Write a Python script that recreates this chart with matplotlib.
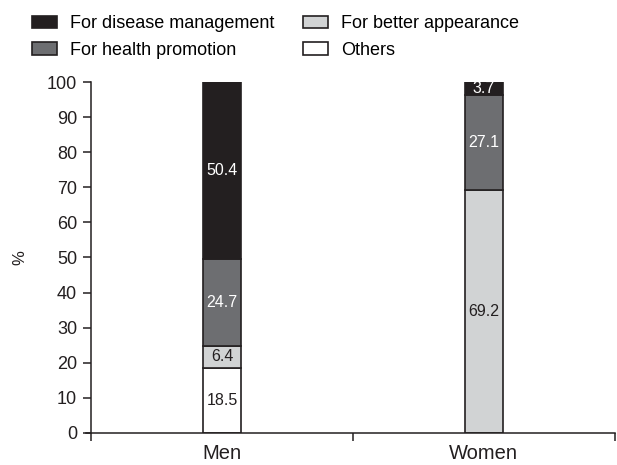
import matplotlib
matplotlib.use("Agg")
import matplotlib.pyplot as plt
import numpy as np

plt.rcParams['font.family'] = ['Liberation Sans', 'DejaVu Sans']

groups = ["Men", "Women"]
series = ["For disease management", "For health promotion", "For better appearance", "Others"]
# stacking order bottom -> top
others = [18.5, 0.0]
appearance = [6.4, 69.2]
health = [24.7, 27.1]
disease = [50.4, 3.7]

colors = {"Others": "#ffffff", "For better appearance": "#d1d3d4",
          "For health promotion": "#6d6e71", "For disease management": "#231f20"}
text_colors = {"Others": "#231f20", "For better appearance": "#231f20",
               "For health promotion": "#ffffff", "For disease management": "#ffffff"}

fig = plt.figure(figsize=(6.17, 4.65), dpi=100)
ax = fig.add_axes([0.1475, 0.069, 0.849, 0.7545])

x = np.array([0.5, 1.5])
width = 0.145
bottom = np.zeros(2)
stack = [("Others", others), ("For better appearance", appearance),
         ("For health promotion", health), ("For disease management", disease)]
handles = {}
for name, vals in stack:
    vals = np.array(vals)
    bars = ax.bar(x, vals, width, bottom=bottom, color=colors[name],
                  edgecolor="#231f20", linewidth=1.2, label=name)
    handles[name] = bars
    for xi, b, v in zip(x, bottom, vals):
        if v > 0:
            ax.text(xi, b + v / 2, f"{v:.1f}", ha="center", va="center",
                    fontsize=11.5, color=text_colors[name])
    bottom += vals

ax.set_xlim(0, 2)
ax.set_ylim(0, 100)
ax.set_yticks(range(0, 101, 10))
ax.set_xticks([0, 1, 2])
ax.set_xticklabels([])
ax.set_xticks(x, minor=True)
ax.set_xticklabels(groups, minor=True, fontsize=14.5, color="#231f20")
ax.tick_params(axis="x", which="minor", length=0, pad=8)
ax.tick_params(axis="x", which="major", length=6, width=1.1, color="#231f20")
ax.tick_params(axis="y", length=6, width=1.1, labelsize=13, color="#231f20",
               labelcolor="#231f20", pad=4)
ax.spines["top"].set_visible(False)
ax.spines["right"].set_visible(False)
for s in ["left", "bottom"]:
    ax.spines[s].set_linewidth(1.1)
    ax.spines[s].set_color("#231f20")
ax.spines["bottom"].set_bounds(-0.02, 2)
ax.set_ylabel("%", fontsize=12, color="#231f20", labelpad=14)

order = series
fig.legend([handles[n] for n in order], order, ncol=2, loc="upper left",
           bbox_to_anchor=(0.034, 0.99), frameon=False, fontsize=13,
           handlelength=1.4, handleheight=0.7, handletextpad=0.7,
           columnspacing=1.6, labelspacing=0.5, borderaxespad=0.2)

fig.savefig("out.png", dpi=100)
